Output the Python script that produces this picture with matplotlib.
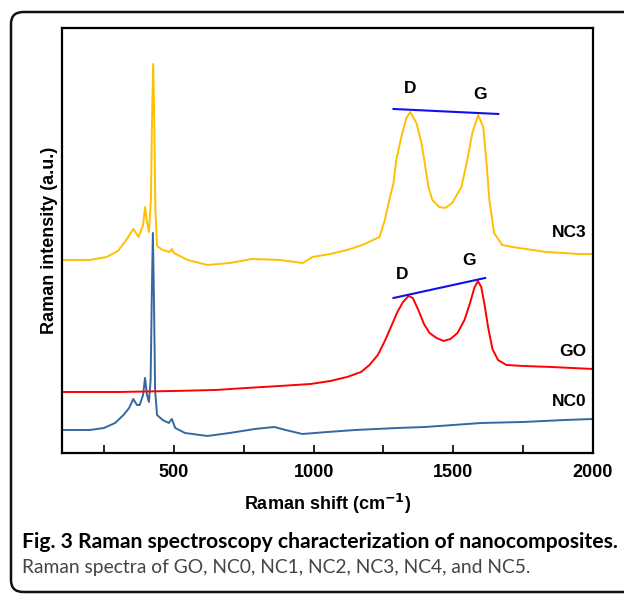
import matplotlib
matplotlib.use("Agg")
import matplotlib.pyplot as plt
import numpy as np
from matplotlib.patches import FancyBboxPatch

# Raman shift (cm-1) and intensity (a.u.)
nc3_x = [100, 200, 260, 300, 330, 355, 374, 390, 397, 404, 411, 418, 422, 426, 430, 434, 440,
         460, 485, 493, 500, 550, 620, 700, 780, 879, 961, 996, 1060, 1120, 1175, 1236, 1255, 1271,
         1286, 1296, 1314, 1332, 1346, 1368, 1386, 1396, 1411, 1425, 1450, 1471, 1496, 1529,
         1550, 1568, 1589, 1607, 1618, 1629, 1646, 1675, 1711, 1832, 1950, 2000]
nc3_y = [193, 193, 196, 202, 213, 224, 216, 228, 246, 231, 221, 253, 333, 389, 333, 243, 207,
         203, 201, 204, 200, 193, 188, 190, 194, 193, 190, 196, 199, 203, 208, 216, 233, 253,
         270, 293, 316, 335, 341, 330, 310, 293, 266, 253, 246, 245, 250, 266,
         293, 320, 338, 326, 293, 253, 220, 208, 206, 201, 199, 199]

go_x = [100, 300, 500, 650, 760, 880, 990, 1060, 1120, 1170, 1200, 1230, 1255, 1280, 1300,
        1320, 1340, 1355, 1375, 1395, 1415, 1440, 1465, 1490, 1515, 1540, 1560, 1575, 1588,
        1600, 1612, 1625, 1640, 1660, 1690, 1750, 1850, 2000]
go_y = [61, 61, 62, 63, 65, 67, 69, 72, 76, 81, 88, 98, 112, 128, 141,
        151, 157, 155, 143, 129, 120, 115, 112, 114, 120, 133, 150, 165, 172,
        166, 148, 125, 104, 93, 88, 87, 86, 84]

nc0_x = [100, 200, 250, 290, 320, 340, 355, 368, 378, 390, 397, 404, 411, 417, 421, 425, 429,
         433, 440, 460, 482, 493, 505, 540, 620, 700, 790, 860, 900, 960, 1050, 1150, 1300,
         1400, 1500, 1600, 1750, 1900, 2000]
nc0_y = [23, 23, 25, 30, 38, 45, 54, 48, 48, 58, 75, 58, 51, 73, 153, 220, 153,
         63, 38, 33, 30, 34, 25, 20, 17, 20, 24, 26, 23, 19, 21, 23, 25,
         26, 28, 30, 31, 33, 34]

# D-G guide lines (endpoints on each curve)
nc3_guide_x = [1286, 1661]
nc3_guide_y = [344, 339]
go_guide_x = [1286, 1614]
go_guide_y = [155, 175]

fig = plt.figure(figsize=(6.24, 5.94), dpi=100)
ax = fig.add_axes([0.0994, 0.2374, 0.851, 0.7155])

ax.plot(nc0_x, nc0_y, color="#3568a0", lw=1.4)
ax.plot(go_x, go_y, color="#ff0000", lw=1.4)
ax.plot(nc3_x, nc3_y, color="#ffc000", lw=1.4)
ax.plot(nc3_guide_x, nc3_guide_y, color="#1010ee", lw=1.5)
ax.plot(go_guide_x, go_guide_y, color="#1010ee", lw=1.5)

lab = dict(fontsize=12.5, fontweight="bold", family="Liberation Sans")
ax.text(1346, 357, "D", ha="center", va="bottom", **lab)
ax.text(1596, 351, "G", ha="center", va="bottom", **lab)
ax.text(1318, 171, "D", ha="center", va="bottom", **lab)
ax.text(1557, 185, "G", ha="center", va="bottom", **lab)
ax.text(1975, 220, "NC3", ha="right", va="center", **lab)
ax.text(1975, 101, "GO", ha="right", va="center", **lab)
ax.text(1975, 51, "NC0", ha="right", va="center", **lab)

ax.set_xlim(100, 2000)
ax.set_ylim(0, 425)
ax.set_xticks([500, 1000, 1500, 2000])
ax.set_xticks([250, 750, 1250, 1750], minor=True)
ax.set_yticks([])
ax.tick_params(axis="x", which="both", direction="in", length=6, width=1.2, pad=8)
for t in ax.get_xticklabels():
    t.set_fontweight("bold")
    t.set_fontsize(13)
    t.set_family("Liberation Sans")
for s in ax.spines.values():
    s.set_linewidth(1.6)

ax.set_xlabel("Raman shift (cm$^{\\mathbf{-1}}$)", fontsize=13, fontweight="bold",
              family="Liberation Sans", labelpad=8)
ax.set_ylabel("Raman intensity (a.u.)", fontsize=13, fontweight="bold",
              family="Liberation Sans", labelpad=3)

# caption
fig.text(22 / 624, 1 - 542 / 594, "Fig. 3 Raman spectroscopy characterization of nanocomposites.",
         fontsize=15.2, fontweight="bold", family="Lato", va="center", ha="left")
fig.text(22 / 624, 1 - 567 / 594, "Raman spectra of GO, NC0, NC1, NC2, NC3, NC4, and NC5.",
         fontsize=13.9, family="Lato", color="#444444", va="center", ha="left")

# rounded frame around the figure (runs off the right edge)
frame = FancyBboxPatch((11 / 624, 2 / 594), 700 / 624, 580 / 594,
                       boxstyle="round,pad=0,rounding_size=0.02",
                       transform=fig.transFigure, fill=False, lw=1.8,
                       edgecolor="#111111", clip_on=False)
fig.patches.append(frame)

fig.savefig("out.png", dpi=100)
